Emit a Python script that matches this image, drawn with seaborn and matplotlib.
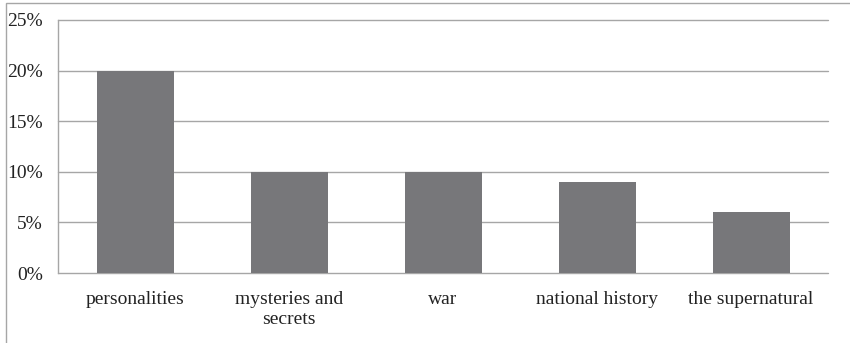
import matplotlib
matplotlib.use("Agg")
import matplotlib.pyplot as plt
import seaborn as sns
import pandas as pd
from matplotlib.patches import Rectangle

categories = ["personalities", "mysteries and\nsecrets", "war", "national history", "the supernatural"]
values = [20, 10, 10, 9, 6]
yticks = [0, 5, 10, 15, 20, 25]
ytick_labels = ["0%", "5%", "10%", "15%", "20%", "25%"]

sns.set_theme(style="white")
plt.rcParams['font.family'] = ['Liberation Serif', 'DejaVu Serif']

fig = plt.figure(figsize=(8.5, 3.43), dpi=100)
ax = fig.add_axes([58/850, 1-273/343, (828-58)/850, (273-20)/343])

df = pd.DataFrame({"cat": categories, "val": values})
sns.barplot(data=df, x="cat", y="val", color="#77777a", saturation=1, width=0.5,
            linewidth=0, ax=ax, zorder=3)

ax.set_ylim(0, 25)
ax.set_xlim(-0.5, 4.5)
ax.set_yticks(yticks)
ax.set_yticklabels(ytick_labels, fontsize=14, color="#222222")
ax.tick_params(axis="y", length=0, pad=11)
ax.tick_params(axis="x", length=0, pad=13, labelsize=14, labelcolor="#222222")
ax.set_xlabel("")
ax.set_ylabel("")
ax.yaxis.grid(True, color="#a6a6a6", linewidth=1, zorder=0)
for gl in ax.yaxis.get_gridlines():
    gl.set_clip_on(False)
for s in ["top", "right", "bottom"]:
    ax.spines[s].set_visible(False)
ax.spines["left"].set_color("#a6a6a6")
ax.spines["left"].set_linewidth(1)

# outer frame
fig.patches.append(Rectangle((6/850, -0.1), 1.2, (343-3)/343 + 0.1, transform=fig.transFigure,
                             fill=False, edgecolor="#a6a6a6", linewidth=1, zorder=0))

fig.savefig("out.png", dpi=100)
